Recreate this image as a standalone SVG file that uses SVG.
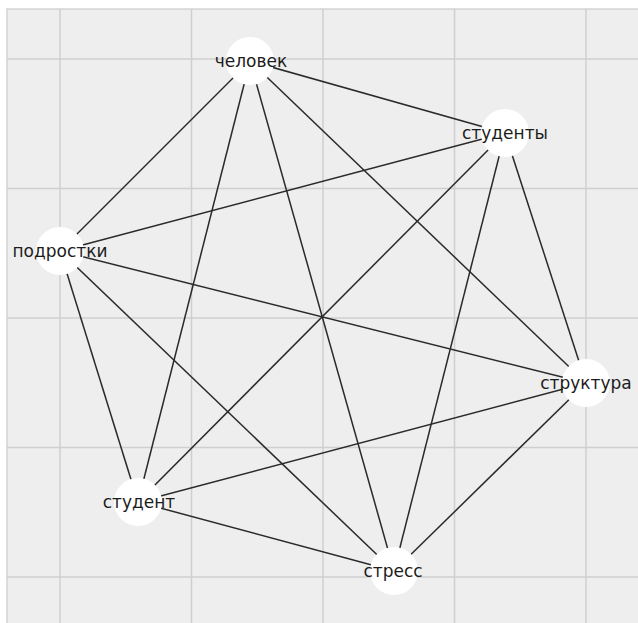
<svg xmlns="http://www.w3.org/2000/svg" width="638" height="623" viewBox="0 0 638 623">
<style>
.grid line{stroke:#cfcfcf;stroke-width:1.5}
.edges line{stroke:#2a2a2a;stroke-width:1.5}
.node circle{fill:#ffffff}
.node text{font-family:"DejaVu Sans",sans-serif;font-size:17px;fill:#1c1c1c;text-anchor:middle;dominant-baseline:central}
</style>
<rect x="0" y="0" width="638" height="623" fill="#ffffff"/>
<rect x="7" y="9" width="640" height="630" fill="#eeeeee" stroke="#d4d4d4" stroke-width="1.5"/>
<g class="grid">
<line x1="60" y1="9" x2="60" y2="623"/>
<line x1="191.5" y1="9" x2="191.5" y2="623"/>
<line x1="323" y1="9" x2="323" y2="623"/>
<line x1="454.5" y1="9" x2="454.5" y2="623"/>
<line x1="586" y1="9" x2="586" y2="623"/>
<line x1="7" y1="59" x2="638" y2="59"/>
<line x1="7" y1="188.5" x2="638" y2="188.5"/>
<line x1="7" y1="318" x2="638" y2="318"/>
<line x1="7" y1="447.5" x2="638" y2="447.5"/>
<line x1="7" y1="577" x2="638" y2="577"/>
</g>
<g class="edges" id="connectors">
<line x1="250" y1="61" x2="505" y2="133"/>
<line x1="250" y1="61" x2="60" y2="251"/>
<line x1="250" y1="61" x2="138" y2="502"/>
<line x1="250" y1="61" x2="394" y2="571"/>
<line x1="250" y1="61" x2="586" y2="383"/>
<line x1="505" y1="133" x2="60" y2="251"/>
<line x1="505" y1="133" x2="138" y2="502"/>
<line x1="505" y1="133" x2="394" y2="571"/>
<line x1="505" y1="133" x2="586" y2="383"/>
<line x1="60" y1="251" x2="586" y2="383"/>
<line x1="60" y1="251" x2="138" y2="502"/>
<line x1="60" y1="251" x2="394" y2="571"/>
<line x1="586" y1="383" x2="138" y2="502"/>
<line x1="586" y1="383" x2="394" y2="571"/>
<line x1="138" y1="502" x2="394" y2="571"/>
</g>
<g class="node" id="node-chelovek"><circle cx="250" cy="61" r="24"/><text x="251" y="61">человек</text></g>
<g class="node" id="node-studenty"><circle cx="505" cy="133" r="24"/><text x="505" y="133">студенты</text></g>
<g class="node" id="node-podrostki"><circle cx="60" cy="251" r="24"/><text x="60" y="251">подростки</text></g>
<g class="node" id="node-struktura"><circle cx="586" cy="383" r="24"/><text x="586" y="383">структура</text></g>
<g class="node" id="node-student"><circle cx="138" cy="502" r="24"/><text x="139" y="502">студент</text></g>
<g class="node" id="node-stress"><circle cx="394" cy="571" r="24"/><text x="393" y="571">стресс</text></g>
</svg>
